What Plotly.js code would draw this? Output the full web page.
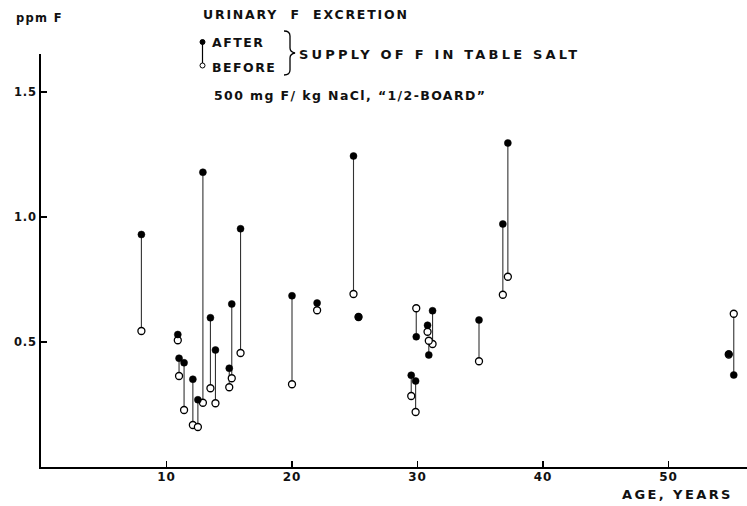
<!DOCTYPE html>
<html>
<head>
<meta charset="utf-8">
<script src="https://cdn.plot.ly/plotly-3.0.1.min.js"></script>
<style>
  html, body { margin: 0; padding: 0; background: #fff; }
  #chart { width: 747px; height: 506px; }
  .xtick text, .ytick text { letter-spacing: 0.8px; }
</style>
</head>
<body>
<div id="chart"></div>
<script>
// Age of each subject (years)
const ages = [8.0, 10.9, 11.0, 11.4, 12.1, 12.5, 12.9, 13.5, 13.9, 15.0, 15.2, 15.9,
              20.0, 22.0, 24.9, 25.3, 29.9, 31.2, 30.8, 30.9, 29.5, 29.85,
              37.2, 36.8, 34.9, 55.2, 54.8];
// Urinary F (ppm) after supply of F in table salt
const afterF = [0.93, 0.53, 0.435, 0.417, 0.351, 0.269, 1.179, 0.597, 0.468, 0.395, 0.652, 0.953,
                0.685, 0.656, 1.244, 0.600, 0.521, 0.625, 0.567, 0.448, 0.367, 0.344,
                1.296, 0.972, 0.588, 0.368, 0.452];
// Urinary F (ppm) before supply
const beforeF = [0.544, 0.507, 0.364, 0.228, 0.168, 0.160, 0.257, 0.315, 0.255, 0.319, 0.355, 0.456,
                 0.331, 0.627, 0.692, 0.600, 0.635, 0.492, 0.541, 0.505, 0.284, 0.220,
                 0.761, 0.689, 0.423, 0.613, 0.450];
const xTicks = [10, 20, 30, 40, 50];
const yTicks = [0.5, 1.0, 1.5];
const yTickText = ["0.5", "1.0", "1.5"];

// connecting segments
const segX = [], segY = [];
ages.forEach((a, i) => { segX.push(a, a, null); segY.push(afterF[i], beforeF[i], null); });

const traces = [
  { x: segX, y: segY, mode: 'lines', line: { color: '#333', width: 1.1 }, hoverinfo: 'skip', showlegend: false },
  { x: ages, y: beforeF, mode: 'markers', name: 'BEFORE',
    marker: { symbol: 'circle', size: 7, color: '#fff', line: { color: '#000', width: 1.3 } }, showlegend: false },
  { x: ages, y: afterF, mode: 'markers', name: 'AFTER',
    marker: { symbol: 'circle', size: 7, color: '#000', line: { color: '#000', width: 0.5 } }, showlegend: false }
];

// plot area geometry (pixels) for decorations
const L = 41, R = 747, T = 54, B = 467;
const px = x => (x - L) / (R - L);
const py = y => (B - y) / (B - T);
const P = (x, y) => px(x).toFixed(4) + ',' + py(y).toFixed(4);

const FAM = 'DejaVu Sans, sans-serif';
function txt(text, x, y, size) {
  return { text: '<b>' + text + '</b>', xref: 'paper', yref: 'paper', x: px(x), y: py(y), xanchor: 'left', yanchor: 'middle',
           showarrow: false, font: { family: FAM, size: size || 12, color: '#111' } };
}
// letter spacing per annotation (same order as annotations)
const spacing = [1.3, 1.8, 1.5, 1.5, 3.2, 1.4, 2.4];

const layout = {
  width: 747, height: 506,
  margin: { l: L, r: 747 - R, t: T, b: 506 - B },
  paper_bgcolor: '#fff', plot_bgcolor: '#fff',
  showlegend: false,
  xaxis: {
    range: [0, (R - L) / 12.55], showgrid: false, zeroline: false,
    showline: true, linecolor: '#000', linewidth: 2,
    ticks: 'inside', ticklen: 6, tickwidth: 1.3, tickcolor: '#000',
    tickvals: xTicks, ticktext: xTicks.map(v => '<b>' + v + '</b>'),
    ticklabelstandoff: -2,
    tickfont: { family: FAM, size: 12, color: '#111' }
  },
  yaxis: {
    range: [0, (B - T) / 250], showgrid: false, zeroline: false,
    showline: true, linecolor: '#000', linewidth: 2,
    ticks: 'inside', ticklen: 6, tickwidth: 1.3, tickcolor: '#000',
    tickvals: yTicks, ticktext: yTickText.map(v => '<b>' + v + '</b>'),
    tickfont: { family: FAM, size: 11.5, color: '#111' }
  },
  annotations: [
    txt('ppm F', 14, 18, 11.5),
    txt('URINARY  F  EXCRETION', 201, 15, 12.5),
    txt('AFTER', 210, 43, 12.5),
    txt('BEFORE', 210, 67, 12.5),
    txt('SUPPLY OF F IN TABLE SALT', 297, 54, 13),
    txt('500 mg F/ kg NaCl, \u201C1/2-BOARD\u201D', 212, 95, 12.5),
    txt('AGE, YEARS', 620, 494, 13)
  ],
  shapes: [
    { type: 'line', xref: 'paper', yref: 'paper', x0: px(202.5), x1: px(202.5), y0: py(42), y1: py(65),
      line: { color: '#000', width: 1.2 } },
    { type: 'circle', xref: 'paper', yref: 'paper', x0: px(200), x1: px(205), y0: py(39.5), y1: py(44.5),
      fillcolor: '#000', line: { color: '#000', width: 1 } },
    { type: 'circle', xref: 'paper', yref: 'paper', x0: px(200), x1: px(205), y0: py(63), y1: py(68),
      fillcolor: '#fff', line: { color: '#000', width: 1 } },
    { type: 'path', xref: 'paper', yref: 'paper',
      path: 'M ' + P(284, 31) + ' Q ' + P(290, 31) + ' ' + P(290, 36) + ' L ' + P(290, 48) +
            ' Q ' + P(290, 52) + ' ' + P(295, 53) + ' Q ' + P(290, 54) + ' ' + P(290, 58) +
            ' L ' + P(290, 70) + ' Q ' + P(290, 75) + ' ' + P(284, 75),
      line: { color: '#000', width: 1.3 } }
  ]
};

Plotly.newPlot('chart', traces, layout, { staticPlot: true, displayModeBar: false }).then(() => {
  document.querySelectorAll('#chart .annotation').forEach(g => {
    const i = +g.getAttribute('data-index');
    const t = g.querySelector('.annotation-text');
    if (!t || spacing[i] === undefined) return;
    const before = t.getBBox().x;
    t.style.letterSpacing = spacing[i] + 'px';
    const after = t.getBBox().x;
    const d = before - after;
    const prev = t.getAttribute('transform') || '';
    t.setAttribute('transform', prev + ' translate(' + d + ',0)');
  });
});
</script>
</body>
</html>
